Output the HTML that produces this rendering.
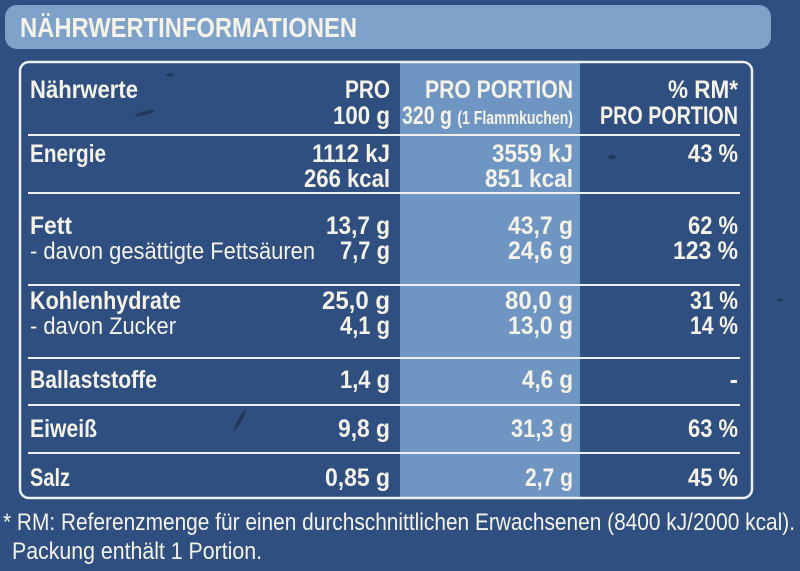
<!DOCTYPE html>
<html><head><meta charset="utf-8"><style>
html,body{margin:0;padding:0;width:800px;height:571px;overflow:hidden;background:#2e4f7f}
svg{display:block}
text{font-family:"Liberation Sans Narrow","Liberation Sans",sans-serif;fill:#f5f2e8}
.b{font-weight:bold;font-size:25px}
.n{font-weight:normal;font-size:24px}
</style></head><body>
<svg width="800" height="571" viewBox="0 0 800 571" xmlns="http://www.w3.org/2000/svg">
<rect width="800" height="571" fill="#2e4f7f"/>
<g fill="#1b2f4e" opacity="0.7">
<ellipse cx="145" cy="113" rx="10" ry="2" transform="rotate(-15 145 113)"/>
<ellipse cx="170" cy="75" rx="4" ry="1.5"/>
<ellipse cx="612" cy="157" rx="4" ry="2"/>
<ellipse cx="780" cy="300" rx="3" ry="1.5"/>
<ellipse cx="240" cy="420" rx="2" ry="12" transform="rotate(30 240 420)"/>
</g>
<rect x="5" y="5" width="766" height="44" rx="12" fill="#7ea2c9"/>
<text class="b" x="20" y="37" style="font-size:28px" textLength="337" lengthAdjust="spacingAndGlyphs">NÄHRWERTINFORMATIONEN</text>
<rect x="400" y="63" width="180" height="434" fill="#6f96c2"/>
<rect x="20" y="62" width="732" height="436" rx="9" fill="none" stroke="#eef0ee" stroke-width="2.5"/>
<g stroke="#eef0ee" stroke-width="2">
<line x1="28" y1="135" x2="740" y2="135"/>
<line x1="28" y1="193" x2="740" y2="193"/>
<line x1="28" y1="285" x2="740" y2="285"/>
<line x1="28" y1="358" x2="740" y2="358"/>
<line x1="28" y1="405" x2="740" y2="405"/>
<line x1="28" y1="453" x2="740" y2="453"/>
</g>
<g>
<text class="b" x="30" y="98" textLength="108" lengthAdjust="spacingAndGlyphs">Nährwerte</text>
<text class="b" x="390" y="98" text-anchor="end" textLength="45" lengthAdjust="spacingAndGlyphs">PRO</text>
<text class="b" x="390" y="124" text-anchor="end" textLength="57" lengthAdjust="spacingAndGlyphs">100 g</text>
<text class="b" x="425" y="98" textLength="148" lengthAdjust="spacingAndGlyphs">PRO PORTION</text>
<text class="b" x="402" y="124" textLength="171" lengthAdjust="spacingAndGlyphs">320 g <tspan style="font-size:18px">(1 Flammkuchen)</tspan></text>
<text class="b" x="738" y="98" text-anchor="end" textLength="70" lengthAdjust="spacingAndGlyphs">% RM*</text>
<text class="b" x="600" y="124" textLength="138" lengthAdjust="spacingAndGlyphs">PRO PORTION</text>

<text class="b" x="30" y="162" textLength="76" lengthAdjust="spacingAndGlyphs">Energie</text>
<text class="b" x="390" y="162" text-anchor="end" textLength="78" lengthAdjust="spacingAndGlyphs">1112 kJ</text>
<text class="b" x="390" y="187" text-anchor="end" textLength="86" lengthAdjust="spacingAndGlyphs">266 kcal</text>
<text class="b" x="573" y="162" text-anchor="end" textLength="81" lengthAdjust="spacingAndGlyphs">3559 kJ</text>
<text class="b" x="573" y="187" text-anchor="end" textLength="88" lengthAdjust="spacingAndGlyphs">851 kcal</text>
<text class="b" x="738" y="162" text-anchor="end" textLength="50" lengthAdjust="spacingAndGlyphs">43 %</text>

<text class="b" x="30" y="234" textLength="42" lengthAdjust="spacingAndGlyphs">Fett</text>
<text class="b" x="390" y="234" text-anchor="end" textLength="64" lengthAdjust="spacingAndGlyphs">13,7 g</text>
<text class="b" x="573" y="234" text-anchor="end" textLength="65" lengthAdjust="spacingAndGlyphs">43,7 g</text>
<text class="b" x="738" y="234" text-anchor="end" textLength="50" lengthAdjust="spacingAndGlyphs">62 %</text>
<text class="n" x="30" y="259" textLength="285" lengthAdjust="spacingAndGlyphs">- davon gesättigte Fettsäuren</text>
<text class="b" x="390" y="259" text-anchor="end" textLength="50" lengthAdjust="spacingAndGlyphs">7,7 g</text>
<text class="b" x="573" y="259" text-anchor="end" textLength="65" lengthAdjust="spacingAndGlyphs">24,6 g</text>
<text class="b" x="738" y="259" text-anchor="end" textLength="65" lengthAdjust="spacingAndGlyphs">123 %</text>

<text class="b" x="30" y="309" textLength="151" lengthAdjust="spacingAndGlyphs">Kohlenhydrate</text>
<text class="b" x="390" y="309" text-anchor="end" textLength="68" lengthAdjust="spacingAndGlyphs">25,0 g</text>
<text class="b" x="573" y="309" text-anchor="end" textLength="68" lengthAdjust="spacingAndGlyphs">80,0 g</text>
<text class="b" x="738" y="309" text-anchor="end" textLength="48" lengthAdjust="spacingAndGlyphs">31 %</text>
<text class="n" x="30" y="334" textLength="146" lengthAdjust="spacingAndGlyphs">- davon Zucker</text>
<text class="b" x="390" y="334" text-anchor="end" textLength="50" lengthAdjust="spacingAndGlyphs">4,1 g</text>
<text class="b" x="573" y="334" text-anchor="end" textLength="65" lengthAdjust="spacingAndGlyphs">13,0 g</text>
<text class="b" x="738" y="334" text-anchor="end" textLength="48" lengthAdjust="spacingAndGlyphs">14 %</text>

<text class="b" x="30" y="388" textLength="127" lengthAdjust="spacingAndGlyphs">Ballaststoffe</text>
<text class="b" x="390" y="388" text-anchor="end" textLength="50" lengthAdjust="spacingAndGlyphs">1,4 g</text>
<text class="b" x="573" y="388" text-anchor="end" textLength="51" lengthAdjust="spacingAndGlyphs">4,6 g</text>
<text class="b" x="738" y="388" text-anchor="end">-</text>

<text class="b" x="30" y="437" textLength="67" lengthAdjust="spacingAndGlyphs">Eiweiß</text>
<text class="b" x="390" y="437" text-anchor="end" textLength="52" lengthAdjust="spacingAndGlyphs">9,8 g</text>
<text class="b" x="573" y="437" text-anchor="end" textLength="62" lengthAdjust="spacingAndGlyphs">31,3 g</text>
<text class="b" x="738" y="437" text-anchor="end" textLength="50" lengthAdjust="spacingAndGlyphs">63 %</text>

<text class="b" x="30" y="486" textLength="40" lengthAdjust="spacingAndGlyphs">Salz</text>
<text class="b" x="390" y="486" text-anchor="end" textLength="65" lengthAdjust="spacingAndGlyphs">0,85 g</text>
<text class="b" x="573" y="486" text-anchor="end" textLength="48" lengthAdjust="spacingAndGlyphs">2,7 g</text>
<text class="b" x="738" y="486" text-anchor="end" textLength="50" lengthAdjust="spacingAndGlyphs">45 %</text>
</g>
<text class="n" x="3" y="530" textLength="792" lengthAdjust="spacingAndGlyphs">* RM: Referenzmenge für einen durchschnittlichen Erwachsenen (8400 kJ/2000 kcal).</text>
<text class="n" x="12" y="559" textLength="250" lengthAdjust="spacingAndGlyphs">Packung enthält 1 Portion.</text>
</svg>
</body></html>
